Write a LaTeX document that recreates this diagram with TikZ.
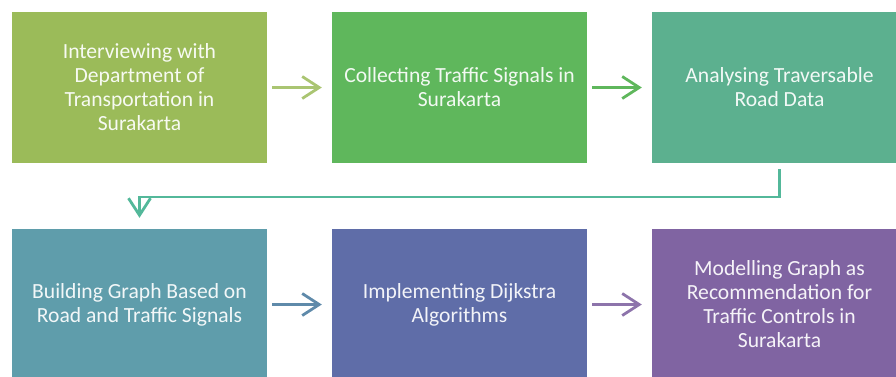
\documentclass[tikz,border=0pt]{standalone}
\usepackage{fontspec}
\setmainfont{Carlito}
\usepackage{tikz}
\usepackage{xcolor}
\usetikzlibrary{arrows.meta}

\definecolor{stepA}{HTML}{9BBB59}
\definecolor{stepB}{HTML}{5FB75C}
\definecolor{stepC}{HTML}{5CB08F}
\definecolor{stepD}{HTML}{5F9DAB}
\definecolor{stepE}{HTML}{5F6DA8}
\definecolor{stepF}{HTML}{8064A2}

\begin{document}
\begin{tikzpicture}[x=1pt, y=-1pt,
  stepbox/.style={rectangle, minimum width=255pt, minimum height=151pt, inner sep=0pt,
    align=center, font=\fontsize{21.6}{24}\selectfont, text=white!92!#1, fill=#1},
  flow/.style={draw=#1, line width=2.8pt, -{Straight Barb[length=17pt, width=22pt, line width=2.8pt]},
    shorten <=5pt, shorten >=10pt}]
\useasboundingbox (0,0) rectangle (896,376);
\clip (0,0) rectangle (896,376);
\node[stepbox=stepA] (interview) at (139.5, 87.5) {Interviewing with\\Department of\\Transportation in\\Surakarta};
\node[stepbox=stepB] (collect) at (459.5, 87.5) {Collecting Traffic Signals in\\Surakarta};
\node[stepbox=stepC] (analyse) at (779.5, 87.5) {Analysing Traversable\\Road Data};
\node[stepbox=stepD] (build) at (139.5, 304.5) {Building Graph Based on\\Road and Traffic Signals};
\node[stepbox=stepE] (dijkstra) at (459.5, 304.5) {Implementing Dijkstra\\Algorithms};
\node[stepbox=stepF] (model) at (779.5, 304.5) {Modelling Graph as\\Recommendation for\\Traffic Controls in\\Surakarta};
\coordinate (turn) at (779.5, 197);
\draw[flow=stepA!85] (interview) -- (collect);
\draw[flow=stepB] (collect) -- (analyse);
\draw[flow=stepC!90!cyan, shorten <=6pt, shorten >=11pt] (analyse) -- (turn) -| (build);
\draw[flow=stepD!60!stepE] (build) -- (dijkstra);
\draw[flow=stepF!90] (dijkstra) -- (model);

\end{tikzpicture}
\end{document}
